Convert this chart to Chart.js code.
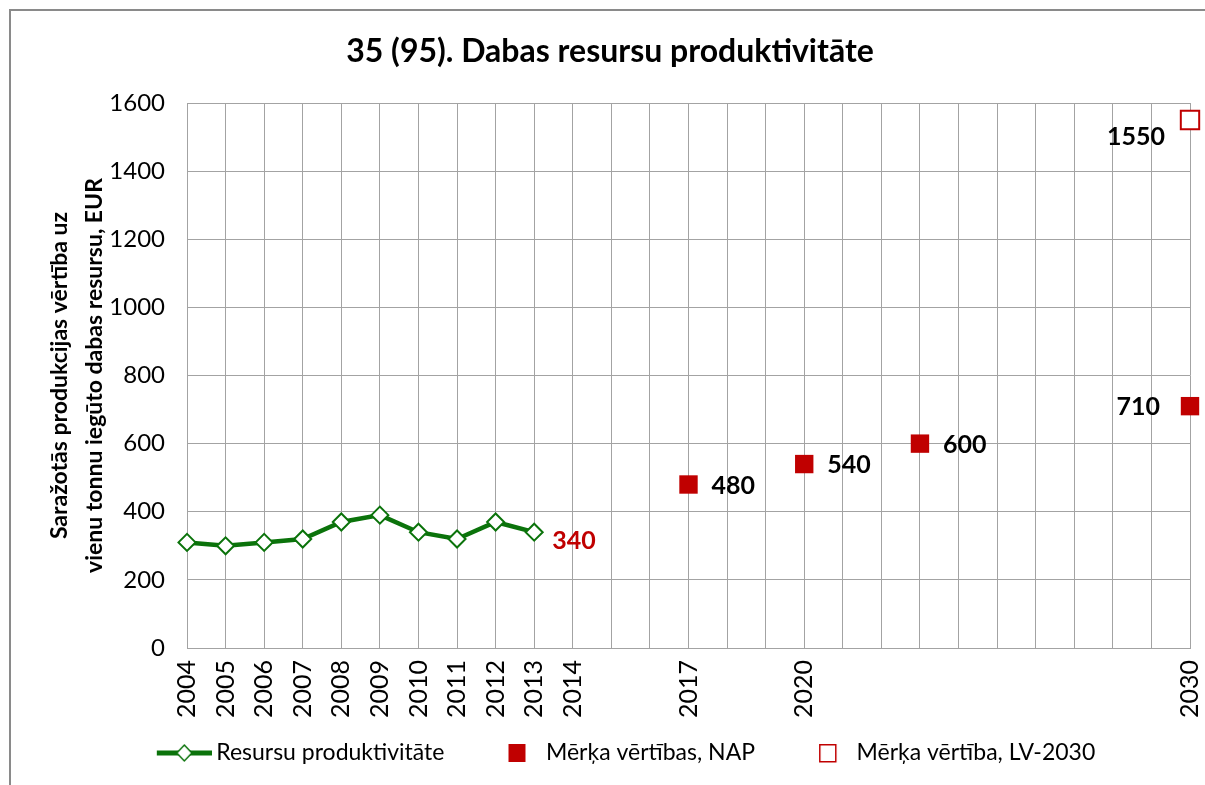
<!DOCTYPE html>
<html>
<head>
<meta charset="utf-8">
<script src="https://cdn.jsdelivr.net/npm/chart.js@4.4.1/dist/chart.umd.min.js"></script>
<style>
  html, body { margin: 0; padding: 0; background: #fff; }
</style>
</head>
<body>
<canvas id="chart" width="1205" height="785"></canvas>
<script>
// x-axis categories, one grid line per year
const years = ['2004', '2005', '2006', '2007', '2008', '2009', '2010', '2011', '2012', '2013', '2014',
               '2015', '2016', '2017', '2018', '2019', '2020', '2021', '2022', '2023', '2024',
               '2025', '2026', '2027', '2028', '2029', '2030'];
// years that get a tick label
const shownYears = ['2004', '2005', '2006', '2007', '2008', '2009', '2010', '2011', '2012', '2013', '2014',
                    '2017', '2020', '2030'];

// Resursu produktivitāte (actual values)
const prodYears = ['2004', '2005', '2006', '2007', '2008', '2009', '2010', '2011', '2012', '2013'];
const prodValues = [310, 300, 310, 320, 370, 390, 340, 320, 370, 340];

// Mērķa vērtības, NAP
const napYears = ['2017', '2020', '2023', '2030'];
const napValues = [480, 540, 600, 710];

// Mērķa vērtība, LV-2030
const lvYears = ['2030'];
const lvValues = [1550];

// y axis range
const yMin = 0;
const yMax = 1600;
const yStep = 200;

const GREEN = '#0b730b';
const RED = '#c00000';
const GRID = '#a3a3a3';

Chart.defaults.font.family = 'Lato';
Chart.defaults.color = '#000';

function toPoints(xs, ys) {
    return xs.map((x, i) => ({ x: x, y: ys[i] }));
}

// small canvases used as legend symbols
function legendIcon(kind) {
    const c = document.createElement('canvas');
    c.width = 94;
    c.height = 24;
    const g = c.getContext('2d');
    if (kind === 'line') {
        g.strokeStyle = GREEN;
        g.lineWidth = 5;
        g.beginPath(); g.moveTo(39, 12); g.lineTo(94, 12); g.stroke();
        g.beginPath();
        g.moveTo(66.5, 4); g.lineTo(74, 12); g.lineTo(66.5, 20); g.lineTo(59, 12);
        g.closePath();
        g.fillStyle = '#fff'; g.fill();
        g.lineWidth = 1.5; g.stroke();
    } else if (kind === 'filled') {
        g.fillStyle = RED;
        g.fillRect(61, 3, 17, 18);
    } else {
        g.strokeStyle = RED;
        g.lineWidth = 1.5;
        g.strokeRect(61.75, 3.75, 16, 17);
    }
    return c;
}
const legendIcons = [legendIcon('line'), legendIcon('filled'), legendIcon('hollow')];

// outer frame (only top and left edges are visible in the picture)
const framePlugin = {
    id: 'frame',
    beforeDraw(chart) {
        const ctx = chart.ctx;
        ctx.save();
        ctx.fillStyle = '#fff';
        ctx.fillRect(0, 0, chart.width, chart.height);
        ctx.strokeStyle = '#8a8a8a';
        ctx.lineWidth = 2;
        ctx.beginPath();
        ctx.moveTo(10, chart.height);
        ctx.lineTo(10, 10);
        ctx.lineTo(chart.width, 10);
        ctx.stroke();
        ctx.restore();
    }
};

// value labels next to the points
const valueLabelPlugin = {
    id: 'valueLabels',
    afterDatasetsDraw(chart) {
        const ctx = chart.ctx;
        const area = chart.chartArea;
        chart.data.datasets.forEach((ds, di) => {
            const opt = ds.valueLabel;
            if (!opt) return;
            const meta = chart.getDatasetMeta(di);
            meta.data.forEach((pt, i) => {
                if (opt.lastOnly && i !== meta.data.length - 1) return;
                const text = String(ds.data[i].y);
                ctx.save();
                ctx.font = 'bold 25px Lato';
                ctx.fillStyle = opt.color;
                ctx.textBaseline = 'middle';
                const w = ctx.measureText(text).width;
                let x = pt.x + opt.dx;
                ctx.textAlign = 'left';
                if (x + w > area.right) {          // no room on the right: put it on the left
                    x = pt.x - opt.dxLeft;
                    ctx.textAlign = 'right';
                }
                ctx.fillText(text, x, pt.y + opt.dy);
                ctx.restore();
            });
        });
    }
};

const chart = new Chart(document.getElementById('chart'), {
    type: 'line',
    data: {
        labels: years,
        datasets: [
            {
                label: 'Resursu produktivitāte',
                data: toPoints(prodYears, prodValues),
                borderColor: GREEN,
                borderWidth: 4.5,
                tension: 0,
                pointStyle: 'rectRot',
                pointRadius: 8.5,
                pointBorderWidth: 2,
                pointBackgroundColor: '#fff',
                pointBorderColor: GREEN,
                valueLabel: { color: RED, dx: 18, dy: 9, lastOnly: true }
            },
            {
                label: 'Mērķa vērtības, NAP',
                data: toPoints(napYears, napValues),
                showLine: false,
                pointStyle: 'rect',
                pointRadius: 13,
                pointBorderWidth: 0,
                pointBackgroundColor: RED,
                pointBorderColor: RED,
                clip: false,
                valueLabel: { color: '#000', dx: 23, dxLeft: 30, dy: 1 }
            },
            {
                label: 'Mērķa vērtība, LV-2030',
                data: toPoints(lvYears, lvValues),
                showLine: false,
                pointStyle: 'rect',
                pointRadius: 13,
                pointBorderWidth: 2,
                pointBackgroundColor: '#fff',
                pointBorderColor: RED,
                clip: false,
                valueLabel: { color: '#000', dx: 23, dxLeft: 25, dy: 17 }
            }
        ]
    },
    options: {
        responsive: false,
        animation: false,
        layout: {
            padding: { left: 30, right: 15, top: 0, bottom: 10.5 }
        },
        scales: {
            x: {
                type: 'category',
                offset: false,
                grid: { color: GRID, drawTicks: false },
                border: { color: GRID },
                ticks: {
                    autoSkip: false,
                    minRotation: 90,
                    maxRotation: 90,
                    padding: 12,
                    font: { size: 25 },
                    callback: function(val, index) {
                        const lbl = this.getLabelForValue(val);
                        return shownYears.includes(lbl) ? lbl : '';
                    }
                },
                afterFit: scale => {
                    scale.height = 83.5;
                    scale.paddingLeft = 0;
                    scale.paddingRight = 0;
                }
            },
            y: {
                min: yMin,
                max: yMax,
                grid: { color: GRID, drawTicks: false },
                border: { color: GRID },
                ticks: {
                    stepSize: yStep,
                    padding: 22,
                    font: { size: 24 },
                    callback: value => String(value)
                },
                title: {
                    display: true,
                    text: ['Saražotās produkcijas vērtība uz', 'vienu tonnu iegūto dabas resursu, EUR'],
                    font: { size: 23, weight: 'bold', lineHeight: 35 / 23 },
                    padding: { top: 12.5, bottom: 0 }
                },
                afterFit: scale => { scale.width = 157; }
            }
        },
        plugins: {
            title: {
                display: true,
                text: '35 (95). Dabas resursu produktivitāte',
                font: { size: 32, weight: 'bold' },
                color: '#000',
                padding: { top: 32.8, bottom: 31.8 }
            },
            legend: {
                position: 'bottom',
                labels: {
                    usePointStyle: true,
                    pointStyleWidth: 80,
                    padding: 10,
                    font: { size: 23 },
                    color: '#000',
                    generateLabels: function(chart) {
                        const items = Chart.defaults.plugins.legend.labels.generateLabels(chart);
                        items.forEach((it, i) => { it.pointStyle = legendIcons[i]; });
                        return items;
                    }
                }
            },
            tooltip: { enabled: false }
        }
    },
    plugins: [framePlugin, valueLabelPlugin]
});
</script>
</body>
</html>
